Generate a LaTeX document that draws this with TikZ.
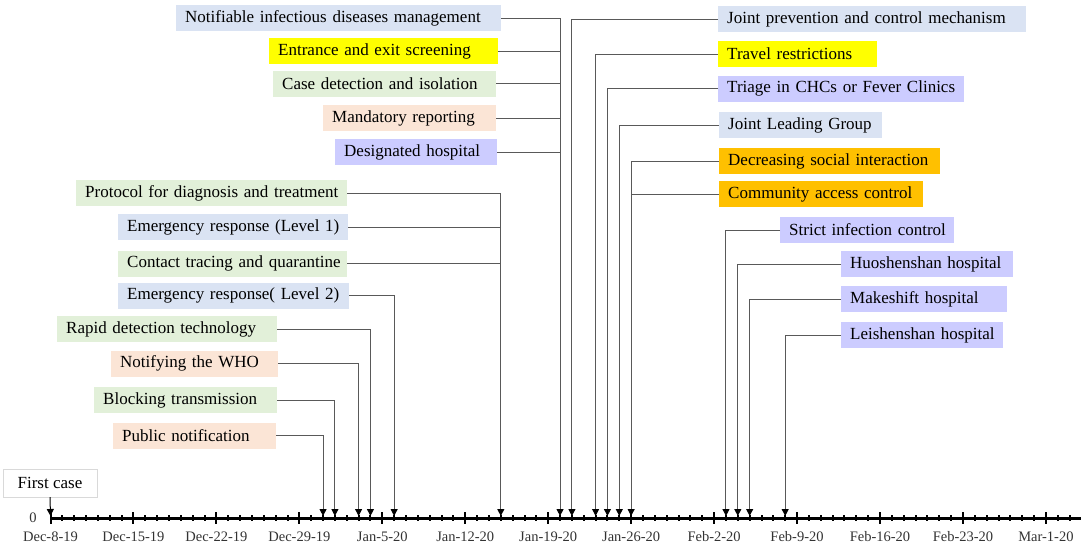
\documentclass[tikz,border=0pt]{standalone}
\usepackage{fontspec}
\setmainfont{Liberation Serif}
\usetikzlibrary{positioning}
\usetikzlibrary{arrows.meta}
\usetikzlibrary{calc}

\definecolor{boxblue}{HTML}{DAE3F3}
\definecolor{boxyellow}{HTML}{FFFF00}
\definecolor{boxgreen}{HTML}{E2F0D9}
\definecolor{boxpeach}{HTML}{FBE5D6}
\definecolor{boxlilac}{HTML}{CCCCFF}
\definecolor{boxorange}{HTML}{FFC000}
\definecolor{linkgray}{HTML}{595959}

% day number -> x position on the time axis
\newcommand{\dayx}[1]{50.5+11.85*#1}

\begin{document}
\begin{tikzpicture}[
	x=1pt,
	y=-1pt,
	mbox/.style={anchor=west, fill=#1, inner xsep=9pt, inner ysep=0pt, minimum height=26pt, align=left, font=\fontsize{17}{20}\selectfont},
	link/.style={draw=linkgray, line width=1pt},
	arrow/.style={link, -{Triangle[length=7pt,width=7pt,color=black]}},
	tick/.style={line width=2pt},
	datelbl/.style={text=black!80, font=\fontsize{14.5}{16}\selectfont},
]

\useasboundingbox (0,0) rectangle (1084,549);

% Measures, left top group
\node[mbox=boxblue, text width=307pt](notif) at (176,18) {\mbox{Notifiable infectious diseases management}};
\node[mbox=boxyellow, text width=211pt](entry) at (269,51) {\mbox{Entrance and exit screening}};
\node[mbox=boxgreen, text width=205pt](casedet) at (273,83.5) {\mbox{Case detection and isolation}};
\node[mbox=boxpeach, text width=155pt](mandrep) at (323,118) {\mbox{Mandatory reporting}};
\node[mbox=boxlilac, text width=144pt](desig) at (335,152) {\mbox{Designated hospital}};

% Measures, left lower group
\node[mbox=boxgreen, text width=253pt](protocol) at (76,193) {\mbox{Protocol for diagnosis and treatment}};
\node[mbox=boxblue, text width=212pt](emer1) at (118,227) {\mbox{Emergency response (Level 1)}};
\node[mbox=boxgreen, text width=211pt](contact) at (118,263.5) {\mbox{Contact tracing and quarantine}};
\node[mbox=boxblue, text width=213pt](emer2) at (118,295.5) {\mbox{Emergency response( Level 2)}};
\node[mbox=boxgreen, text width=202pt](rapid) at (57,329) {\mbox{Rapid detection technology}};
\node[mbox=boxpeach, text width=149pt](notifwho) at (111,363.5) {\mbox{Notifying the WHO}};
\node[mbox=boxgreen, text width=165pt](blocking) at (94,400) {\mbox{Blocking transmission}};
\node[mbox=boxpeach, text width=145pt](public) at (113,435.5) {\mbox{Public notification}};

% Measures, right group
\node[mbox=boxblue, text width=290pt](jointmech) at (718,19) {\mbox{Joint prevention and control mechanism}};
\node[mbox=boxyellow, text width=141pt](travel) at (718,54) {\mbox{Travel restrictions}};
\node[mbox=boxlilac, text width=228pt](triage) at (718,88.5) {\mbox{Triage in CHCs or Fever Clinics}};
\node[mbox=boxblue, text width=145pt](jlg) at (719,125) {\mbox{Joint Leading Group}};
\node[mbox=boxorange, text width=203pt](decsoc) at (719,161) {\mbox{Decreasing social interaction}};
\node[mbox=boxorange, text width=186pt](commacc) at (719,194) {\mbox{Community access control}};
\node[mbox=boxlilac, text width=156pt](strict) at (780,230) {\mbox{Strict infection control}};
\node[mbox=boxlilac, text width=154pt](huosh) at (841,264) {\mbox{Huoshenshan hospital}};
\node[mbox=boxlilac, text width=148pt](makeshift) at (841,299) {\mbox{Makeshift hospital}};
\node[mbox=boxlilac, text width=144pt](leish) at (841,335) {\mbox{Leishenshan hospital}};

\node[draw=black!15, fill=white, minimum width=94pt, minimum height=28pt, inner sep=0pt, font=\fontsize{17}{20}\selectfont](first) at (50,483) {First case};

% Time axis
\coordinate (ax0) at ({\dayx{0}},518);
\coordinate (ax1) at (1081,518);
\foreach \d in {0,...,86}
	\draw[tick] ({\dayx{\d}},515) -- ({\dayx{\d}},521);
\foreach \d in {0,7,...,84}
	\draw[tick] ({\dayx{\d}},512) -- ({\dayx{\d}},524);
\draw[line width=3pt] (ax0) -- (ax1);

\node[datelbl](zero) at (33,518) {0};
\foreach \d/\t in {0/Dec-8-19, 7/Dec-15-19, 14/Dec-22-19, 21/Dec-29-19, 28/Jan-5-20, 35/Jan-12-20, 42/Jan-19-20, 49/Jan-26-20, 56/Feb-2-20, 63/Feb-9-20, 70/Feb-16-20, 77/Feb-23-20, 84/Mar-1-20}
	\node[datelbl](lbl\d) at ({\dayx{\d}},537) {\t};

% Arrow ends on the axis
\foreach \d in {0,23,24,26,27,29,38,43,44,46,47,48,49,57,58,59,62}
	\coordinate (t\d) at ({\dayx{\d}},516);

% Connectors
\draw[arrow,draw=black] (first.south) -- (t0);

\draw[arrow] (notif.east) -| (t43);
\foreach \n in {entry,casedet,mandrep,desig}
	\draw[link] (\n.east) -- (\n.east -| t43);

\draw[arrow] (protocol.east) -| (t38);
\draw[link] (emer1.east) -- (emer1.east -| t38);
\draw[link] (contact.east) -- (contact.east -| t38);
\draw[arrow] (emer2.east) -| (t29);
\draw[arrow] (rapid.east) -| (t27);
\draw[arrow] (notifwho.east) -| (t26);
\draw[arrow] (blocking.east) -| (t24);
\draw[arrow] (public.east) -| (t23);

\draw[arrow] (jointmech.west) -| (t44);
\draw[arrow] (travel.west) -| (t46);
\draw[arrow] (triage.west) -| (t47);
\draw[arrow] (jlg.west) -| (t48);
\draw[arrow] (decsoc.west) -| (t49);
\draw[link] (commacc.west) -- (commacc.west -| t49);
\draw[arrow] (strict.west) -| (t57);
\draw[arrow] (huosh.west) -| (t58);
\draw[arrow] (makeshift.west) -| (t59);
\draw[arrow] (leish.west) -| (t62);
\end{tikzpicture}
\end{document}
